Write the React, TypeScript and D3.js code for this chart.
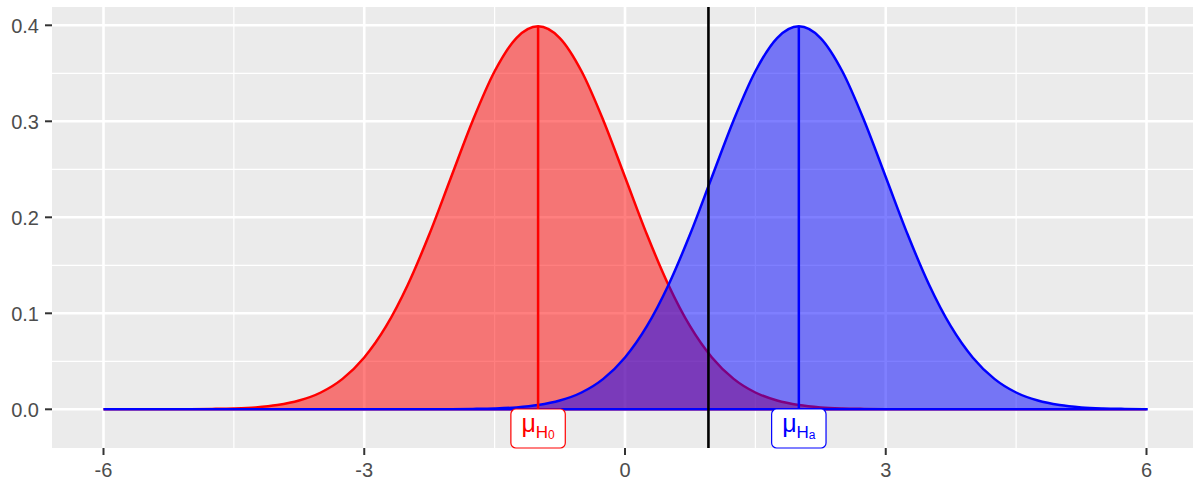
import React, { useEffect, useRef } from 'react';
import * as d3 from 'd3';

const xGrid = [
  -6, -5.75, -5.5, -5.25, -5, -4.75, -4.5, -4.25, -4, -3.75, -3.5, -3.25, -3,
  -2.75, -2.5, -2.25, -2, -1.75, -1.5, -1.25, -1, -0.75, -0.5, -0.25, 0,
  0.25, 0.5, 0.75, 1, 1.25, 1.5, 1.75, 2, 2.25, 2.5, 2.75, 3, 3.25, 3.5,
  3.75, 4, 4.25, 4.5, 4.75, 5, 5.25, 5.5, 5.75, 6,
];

// H0 density (red), centred on -1
const nullDensity = [
  0, 0, 0, 0, 0.0001, 0.0004, 0.0009, 0.002, 0.0044, 0.0091, 0.0175, 0.0317,
  0.054, 0.0863, 0.1295, 0.1826, 0.242, 0.3011, 0.3521, 0.3867, 0.3989,
  0.3867, 0.3521, 0.3011, 0.242, 0.1826, 0.1295, 0.0863, 0.054, 0.0317,
  0.0175, 0.0091, 0.0044, 0.002, 0.0009, 0.0004, 0.0001, 0, 0, 0, 0, 0, 0,
  0, 0, 0, 0, 0, 0,
];

// Ha density (blue), centred on 2
const altDensity = [
  0, 0, 0, 0, 0, 0, 0, 0, 0, 0, 0, 0, 0, 0, 0, 0, 0.0001, 0.0004, 0.0009,
  0.002, 0.0044, 0.0091, 0.0175, 0.0317, 0.054, 0.0863, 0.1295, 0.1826,
  0.242, 0.3011, 0.3521, 0.3867, 0.3989, 0.3867, 0.3521, 0.3011, 0.242,
  0.1826, 0.1295, 0.0863, 0.054, 0.0317, 0.0175, 0.0091, 0.0044, 0.002,
  0.0009, 0.0004, 0.0001,
];

const means = [-1, 2];
const peaks = [0.3989, 0.3989];
const meanSubs = ['0', 'a'];
const seriesColors = ['#FF0000', '#0000FF'];
const criticalValue = 0.96;
const labelLevel = -0.02;

const xTicks = [-6, -3, 0, 3, 6];
const xTickLabels = ['-6', '-3', '0', '3', '6'];
const xMinor = [-4.5, -1.5, 1.5, 4.5];
const yTicks = [0, 0.1, 0.2, 0.3, 0.4];
const yTickLabels = ['0.0', '0.1', '0.2', '0.3', '0.4'];
const yMinor = [0.05, 0.15, 0.25, 0.35];

const W = 1193;
const H = 480;
const panel = { left: 52, top: 7, right: 1193, bottom: 448 };

export default function App() {
  const svgRef = useRef<SVGSVGElement>(null);

  useEffect(() => {
    const svg = d3.select(svgRef.current);
    svg.selectAll('*').remove();

    const x = d3.scaleLinear().domain([-6, 6]).range([103.5, 1146.5]);
    const y = d3.scaleLinear().domain([0, 0.4]).range([409.3, 25.3]);

    svg
      .append('rect')
      .attr('x', panel.left)
      .attr('y', panel.top)
      .attr('width', panel.right - panel.left)
      .attr('height', panel.bottom - panel.top)
      .attr('fill', '#EBEBEB');

    const grid = svg.append('g').attr('stroke', '#FFFFFF').attr('fill', 'none');
    grid
      .selectAll('line.xminor')
      .data(xMinor)
      .join('line')
      .attr('x1', (d) => x(d))
      .attr('x2', (d) => x(d))
      .attr('y1', panel.top)
      .attr('y2', panel.bottom)
      .attr('stroke-width', 1.2);
    grid
      .selectAll('line.yminor')
      .data(yMinor)
      .join('line')
      .attr('x1', panel.left)
      .attr('x2', panel.right)
      .attr('y1', (d) => y(d))
      .attr('y2', (d) => y(d))
      .attr('stroke-width', 1.2);
    grid
      .selectAll('line.xmajor')
      .data(xTicks)
      .join('line')
      .attr('x1', (d) => x(d))
      .attr('x2', (d) => x(d))
      .attr('y1', panel.top)
      .attr('y2', panel.bottom)
      .attr('stroke-width', 2.6);
    grid
      .selectAll('line.ymajor')
      .data(yTicks)
      .join('line')
      .attr('x1', panel.left)
      .attr('x2', panel.right)
      .attr('y1', (d) => y(d))
      .attr('y2', (d) => y(d))
      .attr('stroke-width', 2.6);

    const area = d3
      .area<number>()
      .x((_, i) => x(xGrid[i]))
      .y0(y(0))
      .y1((d) => y(d))
      .curve(d3.curveMonotoneX);

    // each density is filled and outlined all round, so the Ha outline
    // runs along the whole baseline on top of the H0 fill
    [nullDensity, altDensity].forEach((dens, i) => {
      svg
        .append('path')
        .attr('d', area(dens))
        .attr('fill', seriesColors[i])
        .attr('fill-opacity', 0.5);
      svg
        .append('path')
        .attr('d', area(dens))
        .attr('fill', 'none')
        .attr('stroke', seriesColors[i])
        .attr('stroke-width', 2.5);
    });

    // mean segments
    svg
      .selectAll('line.mean')
      .data(means)
      .join('line')
      .attr('x1', (d) => x(d))
      .attr('x2', (d) => x(d))
      .attr('y1', y(0))
      .attr('y2', (_, i) => y(peaks[i]))
      .attr('stroke', (_, i) => seriesColors[i])
      .attr('stroke-width', 2.5);

    // critical value
    svg
      .append('line')
      .attr('x1', x(criticalValue))
      .attr('x2', x(criticalValue))
      .attr('y1', panel.top)
      .attr('y2', panel.bottom)
      .attr('stroke', '#000000')
      .attr('stroke-width', 2.6);

    // mean labels
    const labels = svg
      .selectAll('g.label')
      .data(means)
      .join('g')
      .attr('transform', (d) => `translate(${x(d)},${y(labelLevel)})`);
    labels
      .append('rect')
      .attr('x', -27.2)
      .attr('y', -19.5)
      .attr('width', 54.4)
      .attr('height', 39)
      .attr('rx', 5)
      .attr('fill', '#FFFFFF')
      .attr('stroke', (_, i) => seriesColors[i])
      .attr('stroke-width', 1.2);
    const txt = labels
      .append('text')
      .attr('text-anchor', 'middle')
      .attr('y', 3.4)
      .attr('fill', (_, i) => seriesColors[i])
      .attr('font-family', '"Liberation Sans", Arial, sans-serif');
    txt.append('tspan').attr('font-size', 25).text('μ');
    txt.append('tspan').attr('font-size', 17).attr('dy', 5.9).text('H');
    txt
      .append('tspan')
      .attr('font-size', 12)
      .attr('dy', 1.4)
      .text((_, i) => meanSubs[i]);

    // axes
    const axisFont = '"Liberation Sans", Arial, sans-serif';
    svg
      .selectAll('line.xtick')
      .data(xTicks)
      .join('line')
      .attr('x1', (d) => x(d))
      .attr('x2', (d) => x(d))
      .attr('y1', panel.bottom)
      .attr('y2', panel.bottom + 7)
      .attr('stroke', '#333333')
      .attr('stroke-width', 2);
    svg
      .selectAll('text.xtick')
      .data(xTicks)
      .join('text')
      .attr('x', (d) => x(d))
      .attr('y', 476.5)
      .attr('text-anchor', 'middle')
      .attr('font-family', axisFont)
      .attr('font-size', 20)
      .attr('fill', '#4D4D4D')
      .text((_, i) => xTickLabels[i]);
    svg
      .selectAll('line.ytick')
      .data(yTicks)
      .join('line')
      .attr('x1', panel.left - 7)
      .attr('x2', panel.left)
      .attr('y1', (d) => y(d))
      .attr('y2', (d) => y(d))
      .attr('stroke', '#333333')
      .attr('stroke-width', 2);
    svg
      .selectAll('text.ytick')
      .data(yTicks)
      .join('text')
      .attr('x', 39)
      .attr('y', (d) => y(d))
      .attr('dy', '0.36em')
      .attr('text-anchor', 'end')
      .attr('font-family', axisFont)
      .attr('font-size', 20)
      .attr('fill', '#4D4D4D')
      .text((_, i) => yTickLabels[i]);
  }, []);

  return (
    <svg
      ref={svgRef}
      width={W}
      height={H}
      style={{ position: 'absolute', left: 0, top: 0, background: '#FFFFFF' }}
    />
  );
}
